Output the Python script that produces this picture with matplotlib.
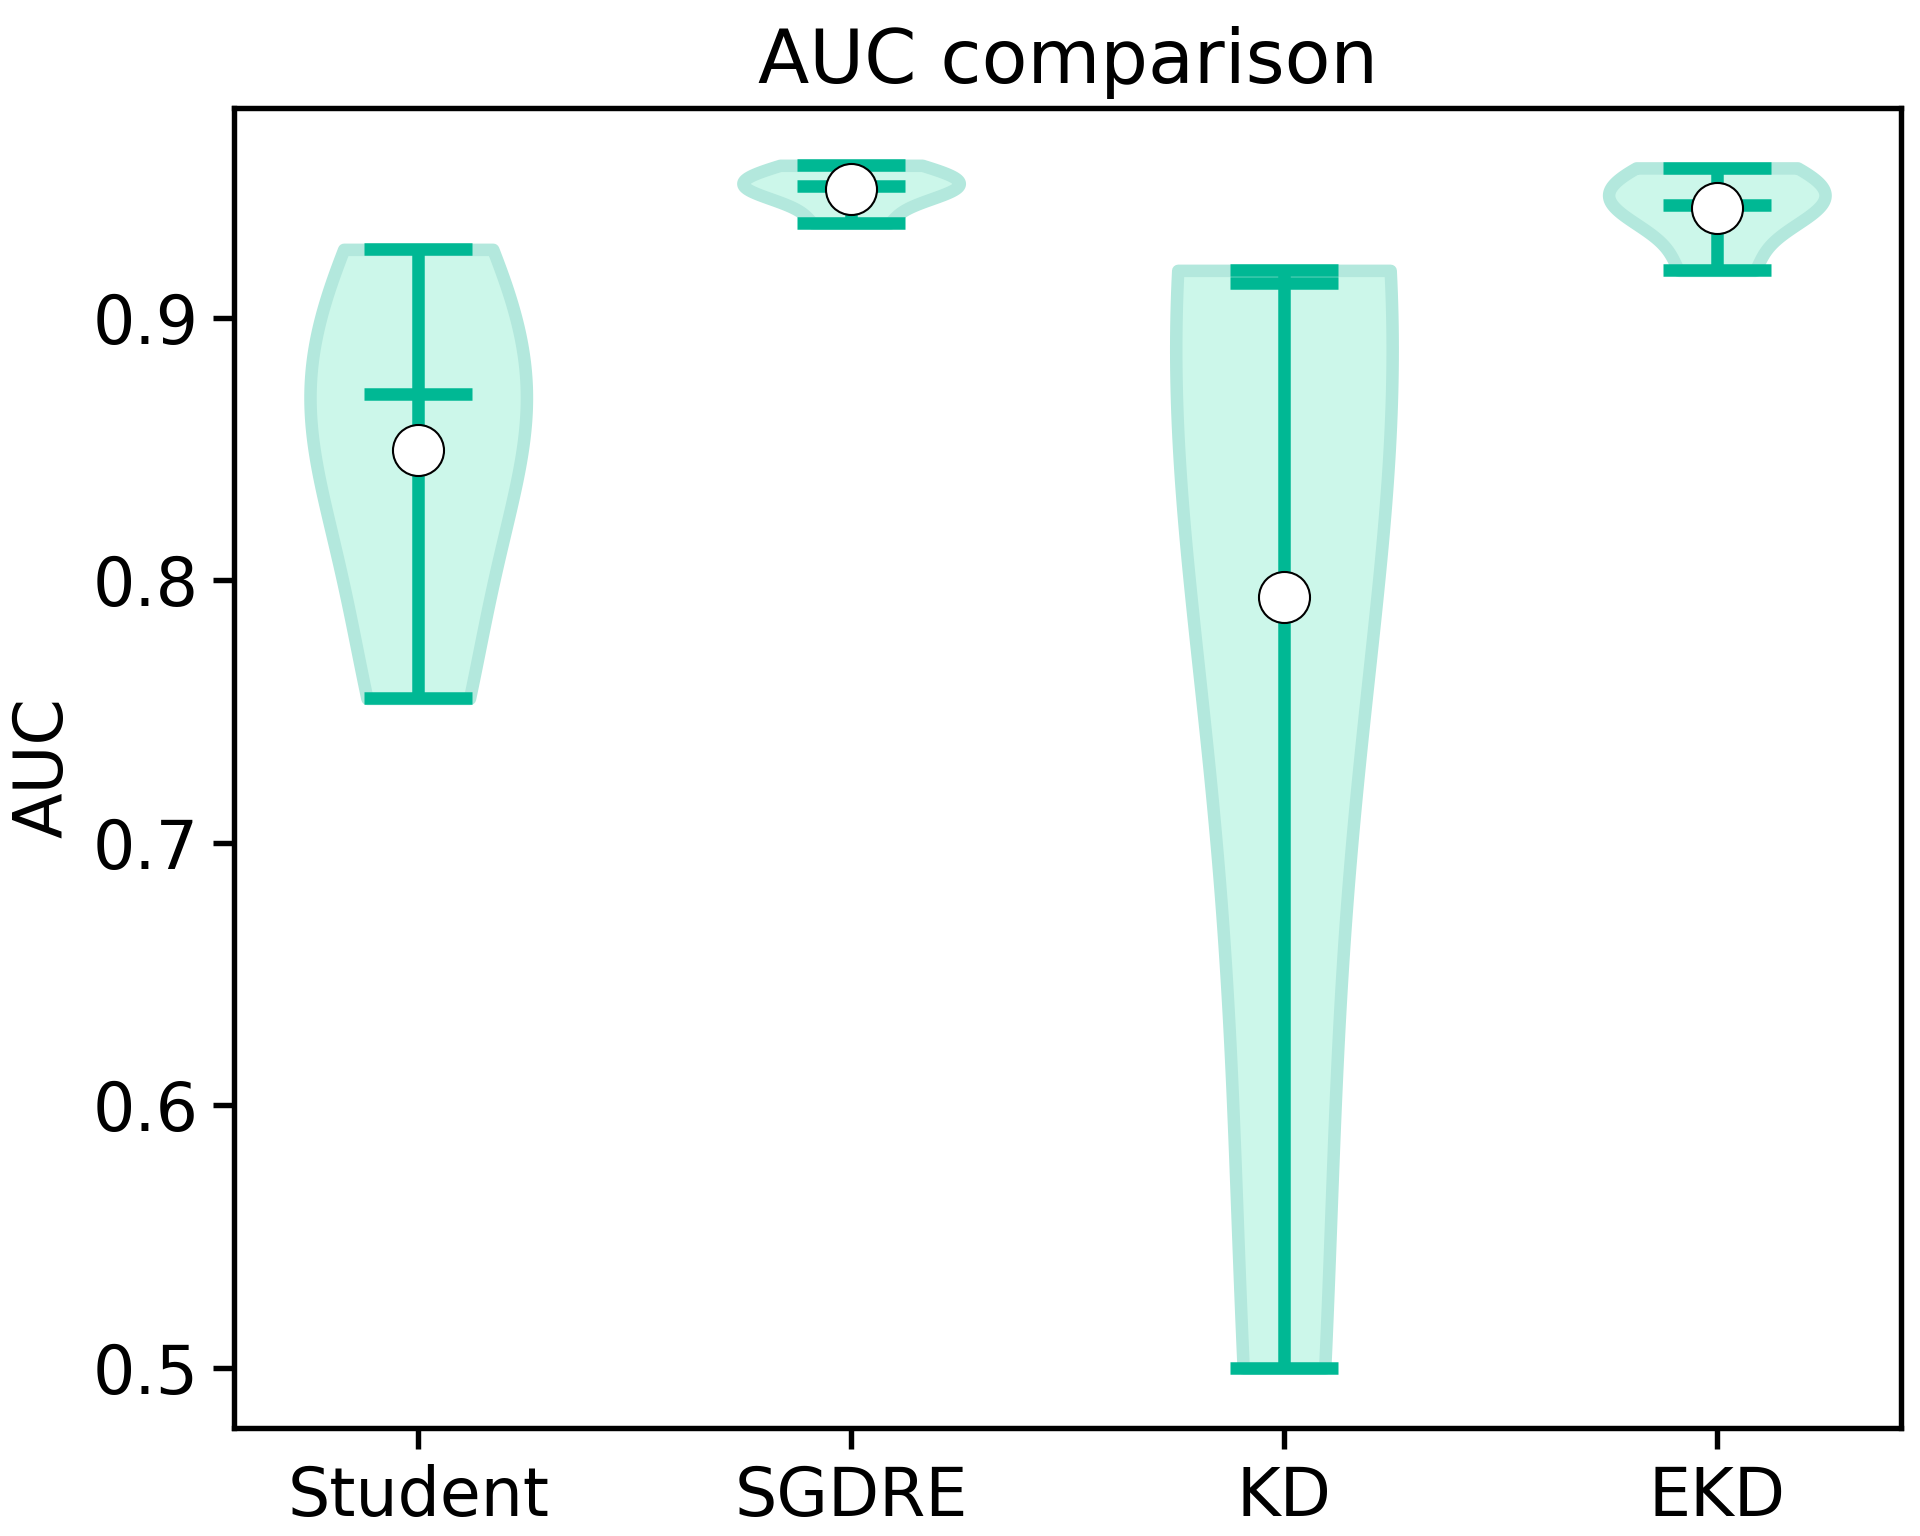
import numpy as np
import matplotlib.pyplot as plt

labels = ["Student", "SGDRE", "KD", "EKD"]
student = [0.755, 0.82, 0.871, 0.875, 0.926]
sgdre = [0.936, 0.948, 0.950, 0.952, 0.958]
kd = [0.500, 0.720, 0.913, 0.917, 0.918]
ekd = [0.918, 0.940, 0.943, 0.950, 0.957]
data = [student, sgdre, kd, ekd]

line_c = "#00b894"
face_c = "#ccf7ea"
edge_c = "#b3e8dd"

fig, ax = plt.subplots(figsize=(6.4, 5.12), dpi=300)
pos = np.arange(1, len(data) + 1)
parts = ax.violinplot(data, positions=pos, showmedians=True, showextrema=True)
for body in parts["bodies"]:
    body.set_facecolor(face_c)
    body.set_edgecolor(edge_c)
    body.set_linewidth(3)
    body.set_alpha(1)
for key in ["cbars", "cmins", "cmaxes", "cmedians"]:
    parts[key].set_color(line_c)
    parts[key].set_linewidth(3)
ax.scatter(pos, [np.mean(d) for d in data], s=150, facecolor="white",
           edgecolor="black", linewidth=0.5, zorder=3)
for sp in ax.spines.values():
    sp.set_linewidth(1.3)
ax.tick_params(width=1.3, length=5)
ax.set_xticks(pos)
ax.set_xticklabels(labels, fontsize=16)
ax.tick_params(axis="y", labelsize=16)
ax.set_ylabel("AUC", fontsize=16)
ax.set_title("AUC comparison", fontsize=18)
ax.set_ylim(0.477, 0.98)
fig.subplots_adjust(left=0.122, right=0.99, bottom=0.07, top=0.93)
fig.savefig("out.png")
